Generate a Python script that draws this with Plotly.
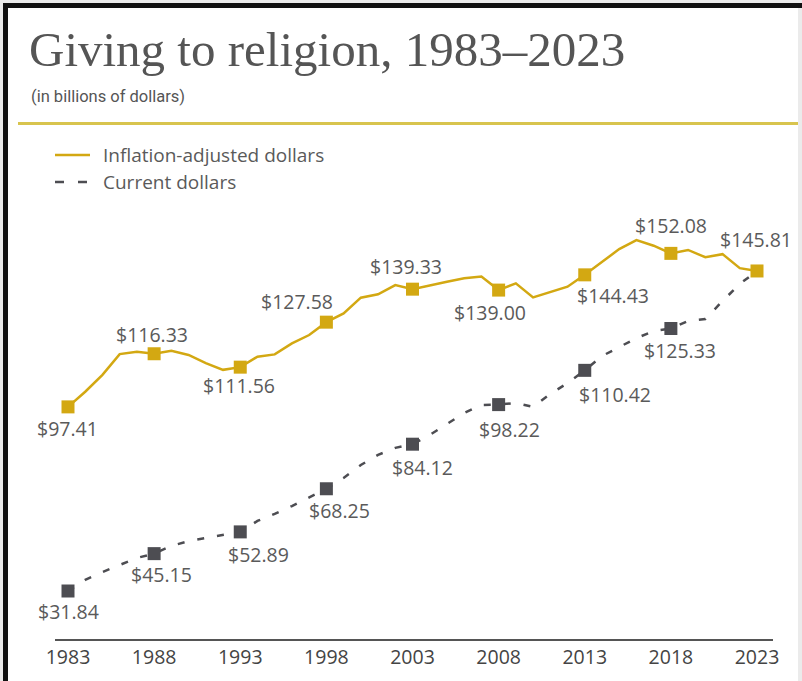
import plotly.graph_objects as go

# ---------------- data ----------------
years = list(range(1983, 2024))
inflation_adjusted = [97.41, 102.8, 108.8, 116.2, 117.0, 116.33, 117.4, 115.9, 113.0, 110.6, 111.56,
                      115.3, 116.1, 120.0, 123.0, 127.58, 130.7, 136.3, 137.5, 140.8, 139.33,
                      140.8, 142.0, 143.2, 143.8, 139.00, 141.4, 136.4, 138.2, 140.2, 144.43,
                      149.1, 153.6, 156.8, 154.8, 152.08, 153.3, 150.7, 151.8, 146.8, 145.81]
current_dollars = [31.84, 35.8, 38.6, 41.1, 43.6, 45.15, 47.9, 49.6, 50.7, 51.8, 52.89,
                   56.8, 59.3, 62.1, 65.3, 68.25, 72.1, 76.7, 80.3, 82.8, 84.12,
                   87.4, 91.3, 95.2, 98.1, 98.22, 98.8, 97.4, 102.0, 105.9, 110.42,
                   115.5, 118.7, 121.9, 124.4, 125.33, 128.0, 128.7, 135.1, 141.2, 145.81]
tick_years = [1983, 1988, 1993, 1998, 2003, 2008, 2013, 2018, 2023]
series_names = ["Inflation-adjusted dollars", "Current dollars"]
title_text = "Giving to religion, 1983–2023"
subtitle_text = "(in billions of dollars)"

# label offsets (pixels: dx right, dy up) per labelled year
infl_offsets = [(-1, -22), (-2, 19), (-1, -18), (-29, 21), (-7, 23), (-9, -22), (28, -21), (0, 28), (-1, 31)]
curr_offsets = [(0, -20), (7, -21), (18, -23), (13, -22), (10, -23), (11, -25), (30, -24), (9, -22), None]

# ---------------- style ----------------
GOLD = "#d3a812"
GREY = "#4d4d52"
TEXT = "#5a5a5a"
FONT = "Open Sans"
LABEL_SIZE = 19.5

L, R, T, B = 55, 773, 200, 639
W, H = R - L, B - T
def px_x(p):
    return (p - L) / W
def px_y(p):
    return (B - p) / H

idx = [years.index(y) for y in tick_years]
infl_m = [inflation_adjusted[i] for i in idx]
curr_m = [current_dollars[i] for i in idx]

fig = go.Figure()
fig.add_trace(go.Scatter(x=years, y=current_dollars, mode="lines", name=series_names[1],
                         line=dict(color=GREY, width=2.5, dash="7px,13px"), showlegend=False,
                         hoverinfo="skip"))
fig.add_trace(go.Scatter(x=years, y=inflation_adjusted, mode="lines", name=series_names[0],
                         line=dict(color=GOLD, width=2.5), showlegend=False, hoverinfo="skip"))
fig.add_trace(go.Scatter(x=tick_years[:-1], y=curr_m[:-1], mode="markers", showlegend=False,
                         marker=dict(symbol="square", size=13, color=GREY)))
fig.add_trace(go.Scatter(x=tick_years, y=infl_m, mode="markers", showlegend=False,
                         marker=dict(symbol="square", size=13, color=GOLD)))

annotations = []
for yr, v, off in zip(tick_years, infl_m, infl_offsets):
    annotations.append(dict(x=yr, y=v, xref="x", yref="y", text=f"${v:.2f}", showarrow=False,
                            xanchor="center", yanchor="middle", xshift=off[0], yshift=off[1],
                            font=dict(family=FONT, size=LABEL_SIZE, color=TEXT)))
for yr, v, off in zip(tick_years, curr_m, curr_offsets):
    if off is None:
        continue
    annotations.append(dict(x=yr, y=v, xref="x", yref="y", text=f"${v:.2f}", showarrow=False,
                            xanchor="center", yanchor="middle", xshift=off[0], yshift=off[1],
                            font=dict(family=FONT, size=LABEL_SIZE, color=TEXT)))

# title, subtitle, legend text
annotations.append(dict(x=px_x(27), y=px_y(49), xref="paper", yref="paper", text=title_text,
                        showarrow=False, xanchor="left", yanchor="middle",
                        font=dict(family="Liberation Serif", size=49, color="#555555")))
annotations.append(dict(x=px_x(29), y=px_y(96), xref="paper", yref="paper", text=subtitle_text,
                        showarrow=False, xanchor="left", yanchor="middle",
                        font=dict(family="Roboto", size=16.5, color="#555555")))
annotations.append(dict(x=px_x(101), y=px_y(155), xref="paper", yref="paper", text=series_names[0],
                        showarrow=False, xanchor="left", yanchor="middle",
                        font=dict(family=FONT, size=19, color=TEXT)))
annotations.append(dict(x=px_x(101), y=px_y(182), xref="paper", yref="paper", text=series_names[1],
                        showarrow=False, xanchor="left", yanchor="middle",
                        font=dict(family=FONT, size=19, color=TEXT)))

shapes = [
    # outer frame
    dict(type="rect", xref="paper", yref="paper", x0=px_x(0), x1=px_x(802), y0=px_y(0), y1=px_y(3),
         fillcolor="#ebebeb", line=dict(width=0), layer="above"),
    dict(type="rect", xref="paper", yref="paper", x0=px_x(0), x1=px_x(3), y0=px_y(0), y1=px_y(681),
         fillcolor="#ebebeb", line=dict(width=0), layer="above"),
    dict(type="rect", xref="paper", yref="paper", x0=px_x(3), x1=px_x(802), y0=px_y(3), y1=px_y(8),
         fillcolor="#111111", line=dict(width=0), layer="above"),
    dict(type="rect", xref="paper", yref="paper", x0=px_x(3), x1=px_x(8), y0=px_y(3), y1=px_y(681),
         fillcolor="#111111", line=dict(width=0), layer="above"),
    dict(type="rect", xref="paper", yref="paper", x0=px_x(798), x1=px_x(802), y0=px_y(8), y1=px_y(681),
         fillcolor="#ebebeb", line=dict(width=0), layer="above"),
    # gold rule
    dict(type="line", xref="paper", yref="paper", x0=px_x(18), x1=px_x(798), y0=px_y(123.5), y1=px_y(123.5),
         line=dict(color="#d8c44e", width=3)),
    # legend samples
    dict(type="line", xref="paper", yref="paper", x0=px_x(55), x1=px_x(90), y0=px_y(155), y1=px_y(155),
         line=dict(color=GOLD, width=2.5)),
    dict(type="line", xref="paper", yref="paper", x0=px_x(55), x1=px_x(90), y0=px_y(182), y1=px_y(182),
         line=dict(color=GREY, width=2.5, dash="9px,14px")),
]

fig.update_layout(
    width=802, height=681,
    margin=dict(l=L, r=802 - R, t=T, b=681 - B, pad=0),
    paper_bgcolor="white", plot_bgcolor="white",
    showlegend=False,
    annotations=annotations, shapes=shapes,
    xaxis=dict(range=[1983 - 13 / 17.225, 2023 + 16 / 17.225], tickvals=tick_years,
               ticktext=[str(y) for y in tick_years], showgrid=False, zeroline=False,
               showline=True, linecolor="#555555", linewidth=2, ticks="",
               tickfont=dict(family=FONT, size=19.5, color="#444444"), fixedrange=True),
    yaxis=dict(range=[31.84 - 48 / 2.808, 31.84 + 391 / 2.808], visible=False, fixedrange=True),
)

fig.write_html("out.html")
